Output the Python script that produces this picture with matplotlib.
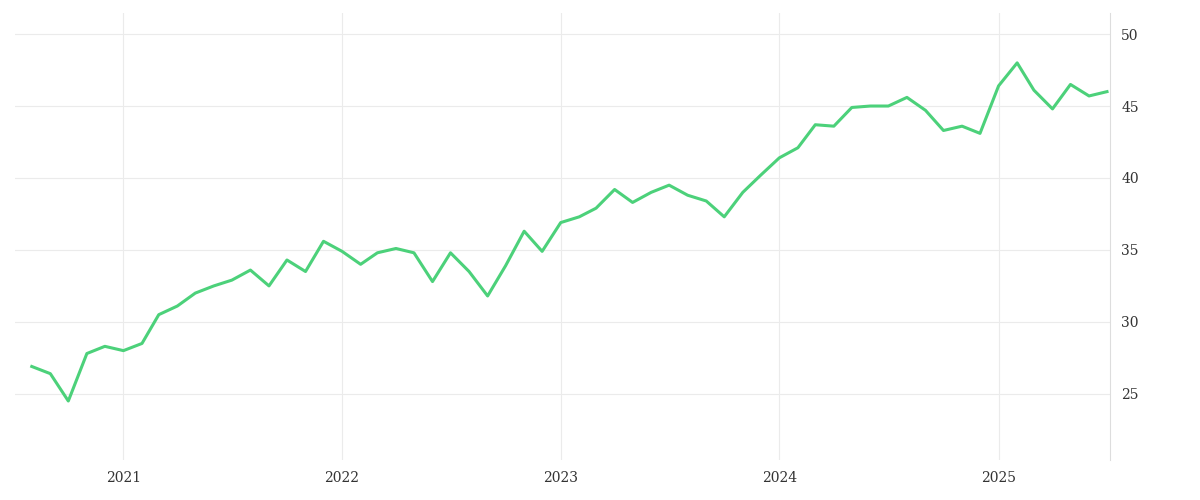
import matplotlib
matplotlib.use("Agg")
import matplotlib.pyplot as plt
import matplotlib.dates as mdates
import pandas as pd

dates = pd.date_range("2020-08-01", periods=60, freq="MS")
values = [26.9, 26.4, 24.5, 27.8, 28.3, 28.0, 28.5, 30.5, 31.1, 32.0,
          32.5, 32.9, 33.6, 32.5, 34.3, 33.5, 35.6, 34.9, 34.0, 34.8,
          35.1, 34.8, 32.8, 34.8, 33.5, 31.8, 33.9, 36.3, 34.9, 36.9,
          37.3, 37.9, 39.2, 38.3, 39.0, 39.5, 38.8, 38.4, 37.3, 39.0,
          40.2, 41.4, 42.1, 43.7, 43.6, 44.9, 45.0, 45.0, 45.6, 44.7,
          43.3, 43.6, 43.1, 46.4, 48.0, 46.1, 44.8, 46.5, 45.7, 46.0]
yticks = [25, 30, 35, 40, 45, 50]

fig = plt.figure(figsize=(12, 5), dpi=100)
ax = fig.add_axes([0.0125, 0.08, 0.9125, 0.895])
ax.plot(dates, values, color="#4cd17a", lw=2.2)
ax.set_ylim(20.4, 51.5)
ax.set_xlim(pd.Timestamp("2020-07-04"), pd.Timestamp("2025-07-06"))
ax.set_yticks(yticks)
ax.yaxis.tick_right()
ax.xaxis.set_major_locator(mdates.YearLocator())
ax.xaxis.set_major_formatter(mdates.DateFormatter("%Y"))
ax.grid(True, color="#ebebeb", lw=0.8)
for s in ["top", "left", "bottom"]:
    ax.spines[s].set_visible(False)
ax.spines["right"].set_color("#dddddd")
ax.tick_params(length=0, labelsize=10, colors="#333333", pad=8)
for lab in ax.get_xticklabels() + ax.get_yticklabels():
    lab.set_family("DejaVu Serif")
fig.savefig("out.png")
